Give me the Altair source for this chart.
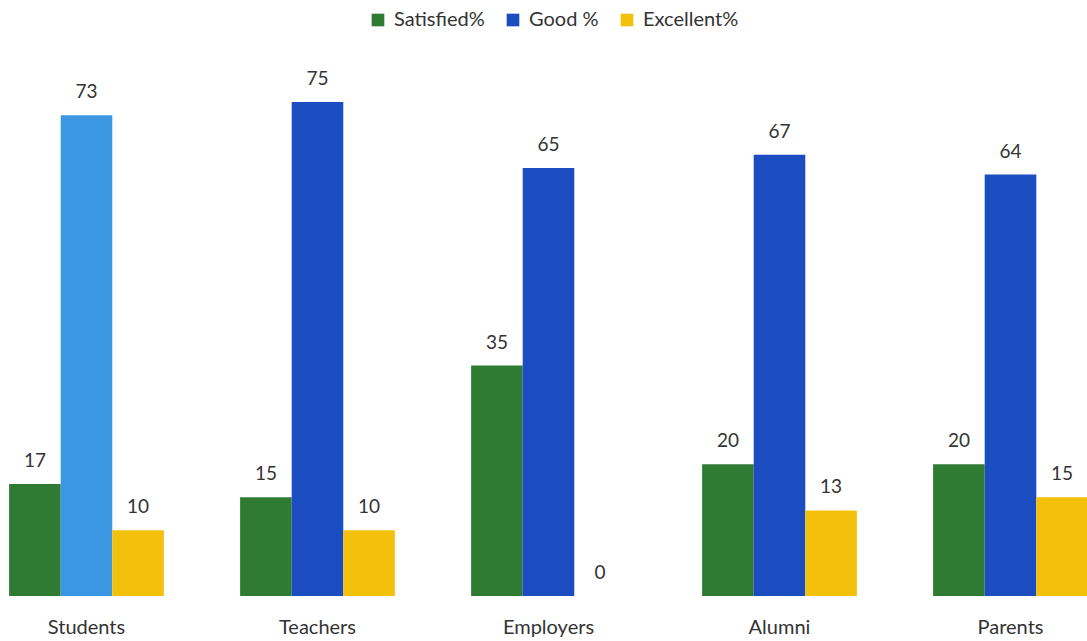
import altair as alt
import pandas as pd

# Survey feedback by stakeholder group
groups = ["Students", "Teachers", "Employers", "Alumni", "Parents"]
series = ["Satisfied%", "Good %", "Excellent%"]
satisfied = [17, 15, 35, 20, 20]
good = [73, 75, 65, 67, 64]
excellent = [10, 10, 0, 13, 15]
colors = ["#2f7b33", "#1b4cc0", "#f3c10c"]

rows = []
for i, g in enumerate(groups):
    for s, vals in zip(series, [satisfied, good, excellent]):
        rows.append({"group": g, "series": s, "value": vals[i]})
df = pd.DataFrame(rows)

font = "Lato"

x = alt.X(
    "group:N",
    sort=groups,
    scale=alt.Scale(range=[-29, 1126], paddingInner=0.33, paddingOuter=0.165),
    axis=alt.Axis(
        title=None, domain=False, ticks=False, labelAngle=0,
        labelFontSize=20, labelColor="#333333", labelPadding=21, labelFont=font,
    ),
)
xo = alt.XOffset("series:N", sort=series, scale=alt.Scale(paddingInner=0, paddingOuter=0))
y = alt.Y("value:Q", scale=alt.Scale(domain=[0, 90.5], nice=False), axis=None)

highlight = "datum.group === 'Students' && datum.series === 'Good %'"

bars = alt.Chart(df).mark_bar().encode(
    x=x,
    xOffset=xo,
    y=y,
    color=alt.condition(
        highlight,
        alt.value("#3c97e3"),
        alt.Color(
            "series:N",
            sort=series,
            scale=alt.Scale(domain=series, range=colors),
            legend=alt.Legend(
                title=None, orient="none", legendX=368, legendY=10,
                direction="horizontal", symbolType="square", symbolSize=160,
                symbolStrokeWidth=0, labelFontSize=20, labelColor="#333333",
                labelFont=font, columnPadding=18, labelOffset=6, labelLimit=0,
            ),
        ),
    ),
)

labels = alt.Chart(df).mark_text(
    dy=-13, fontSize=19, color="#333333", font=font, baseline="bottom"
).encode(x=x, xOffset=xo, y=y, text="value:Q")

chart = (
    alt.layer(bars, labels)
    .properties(
        width=1087, height=596,
        autosize=alt.AutoSizeParams(type="none"),
        padding={"left": 0, "top": 0, "right": 0, "bottom": 45},
        background="#ffffff",
    )
    .configure_view(stroke=None)
)

chart.save("out.html", embed_options={"renderer": "svg", "actions": False})
